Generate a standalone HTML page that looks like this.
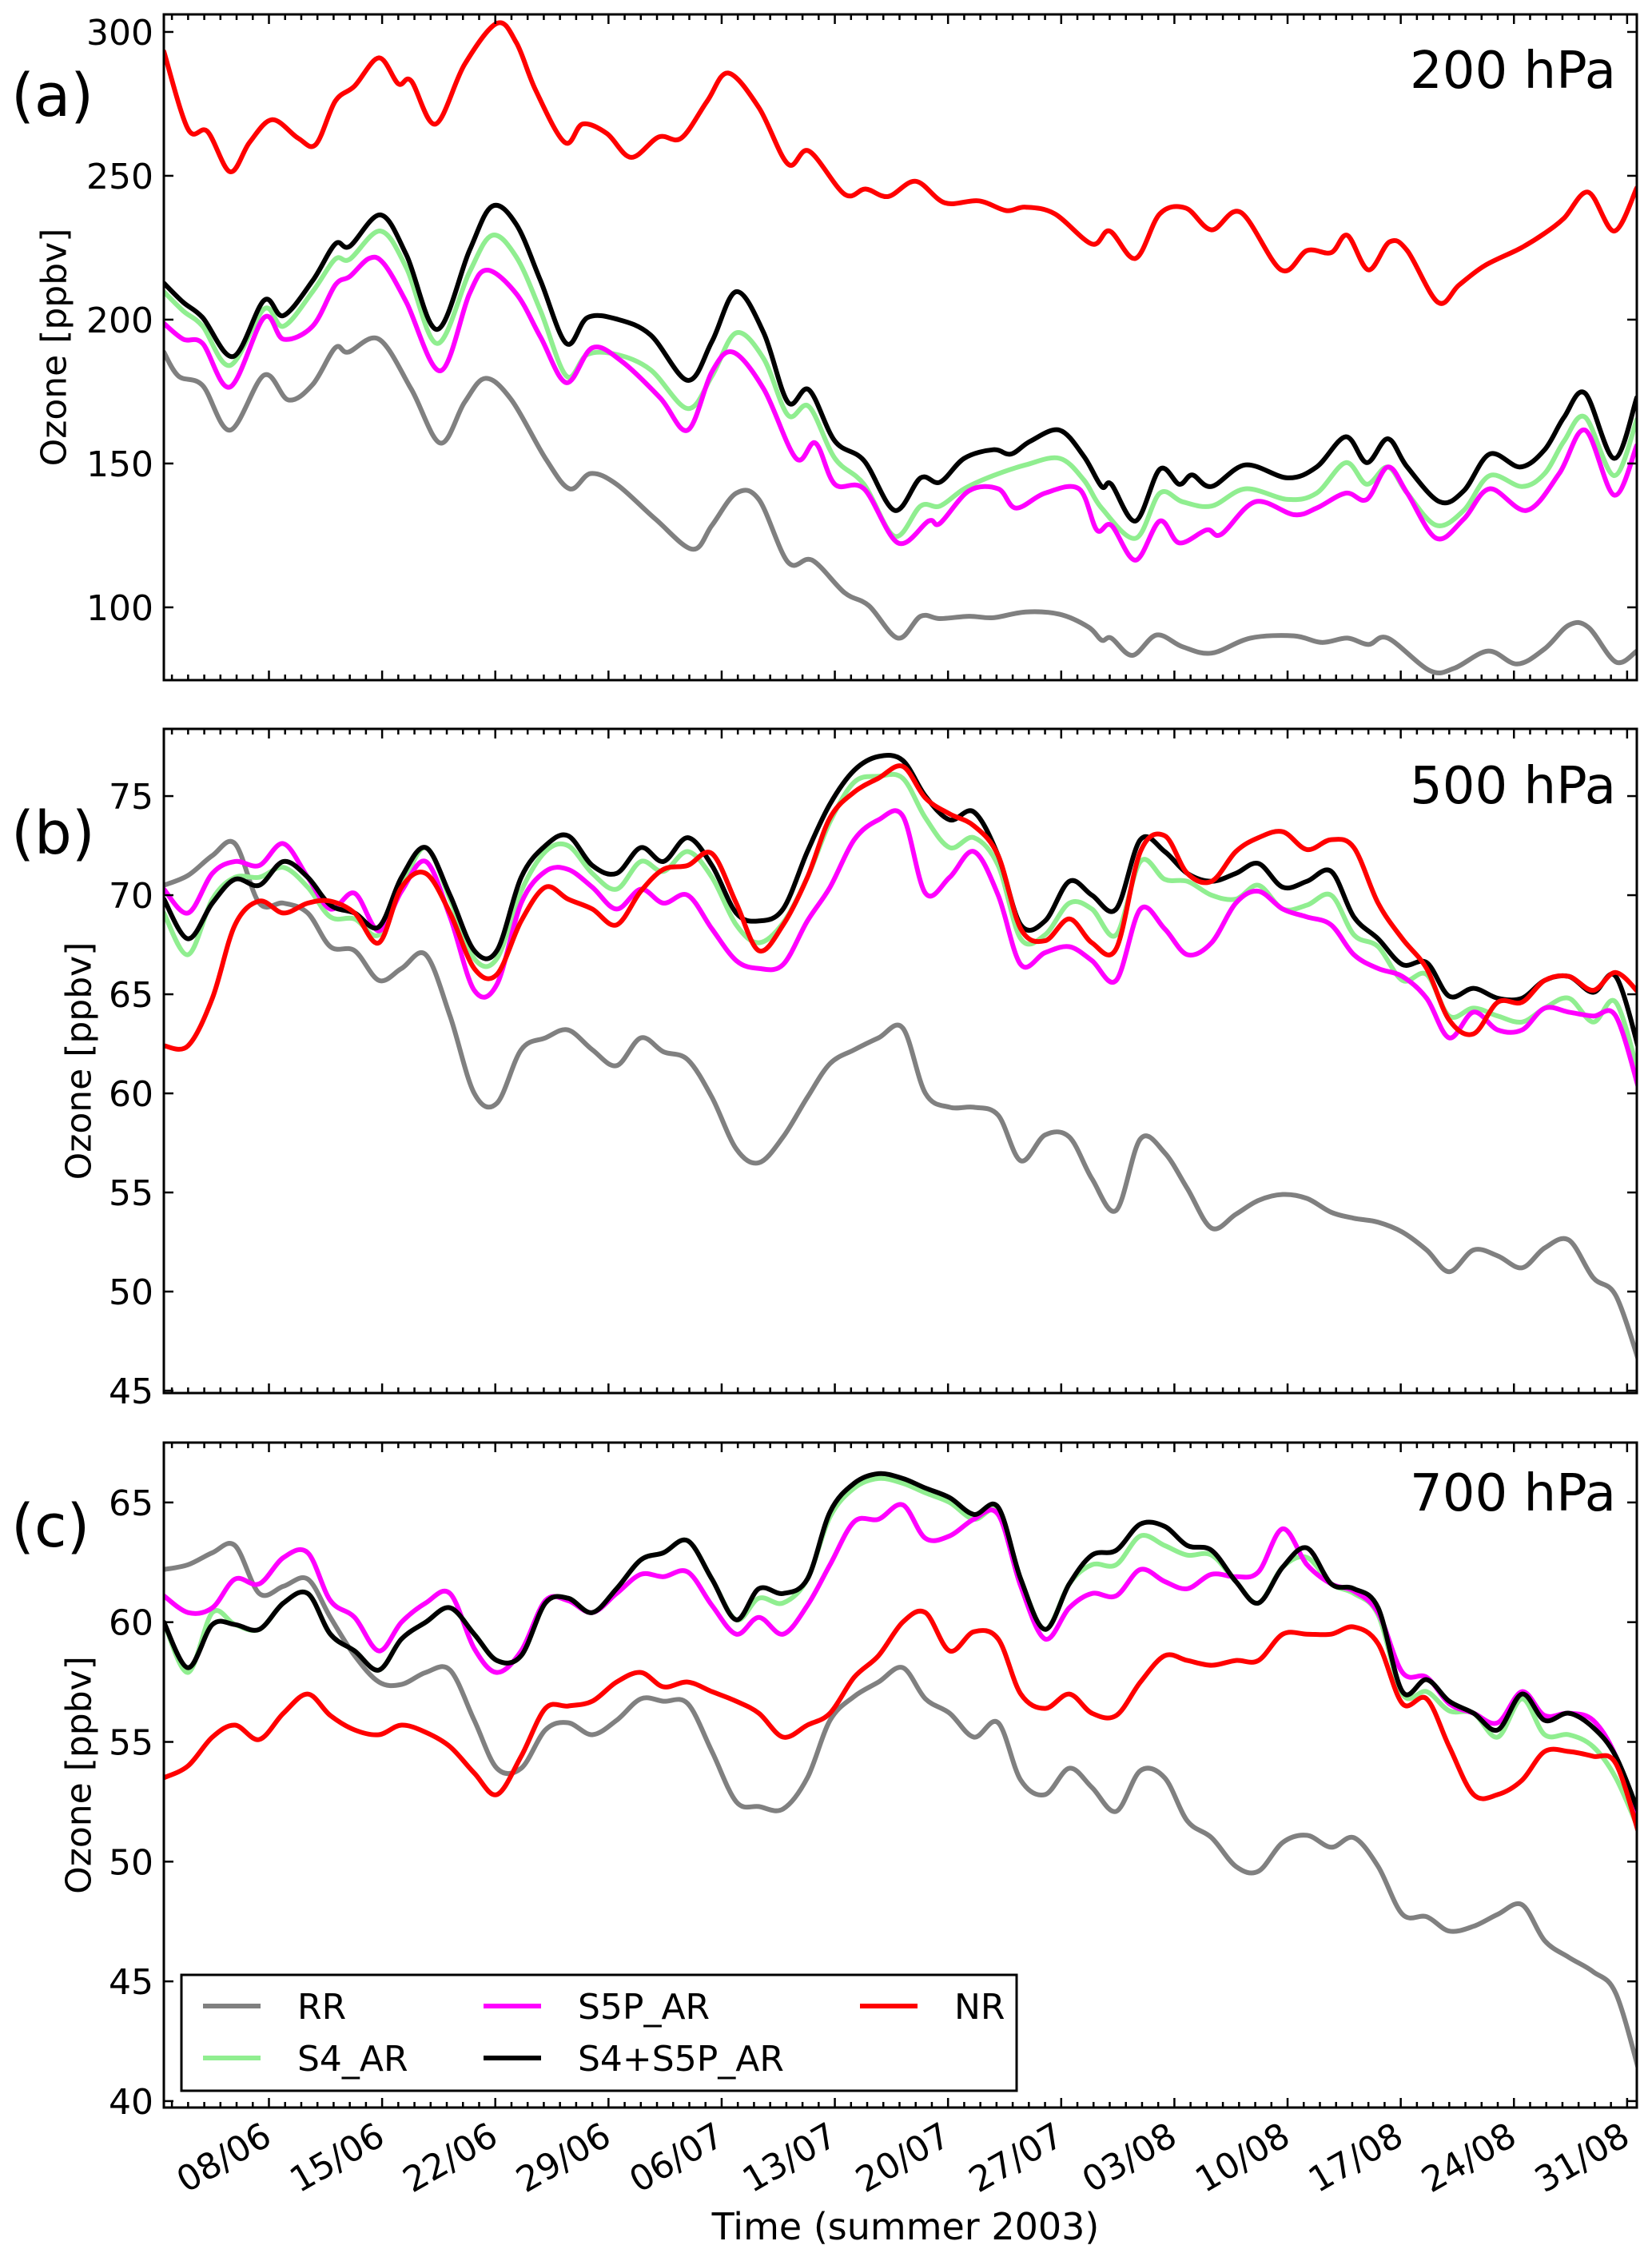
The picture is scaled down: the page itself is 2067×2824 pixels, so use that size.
<!DOCTYPE html>
<html><head><meta charset="utf-8">
<style>
html,body{margin:0;padding:0;background:#fff;}
svg{display:block;font-family:"DejaVu Sans","Liberation Sans",sans-serif;}
</style></head>
<body>
<svg id="fig" width="2067" height="2824" viewBox="0 0 2067 2824" xmlns="http://www.w3.org/2000/svg">
<rect x="0" y="0" width="2067" height="2824" fill="#fff"/>
</svg>
<script>
// ---- data (days since 08/06/2003) ----
const tickLabels = ["08/06","15/06","22/06","29/06","06/07","13/07","20/07","27/07","03/08","10/08","17/08","24/08","31/08"];
const seriesNames = ["RR","S4_AR","S5P_AR","S4+S5P_AR","NR"];
const seriesColors = ["#808080","#90ee90","#ff00ff","#000000","#ff0000"];

// Panel (a) 200 hPa
const aRRdays = [-6.5,-5.6,-4.1,-2.4,-0.3,1.2,2.7,4.1,4.9,6.8,8.8,10.6,12.1,13.4,15.0,17.1,18.6,19.9,21.5,23.9,26.2,27.4,28.9,30.3,32.1,33.6,35.6,37.1,38.9,40.3,41.5,43.3,44.8,46.8,48.9,50.7,51.5,52.1,53.4,54.9,56.5,58.3,60.7,63.4,65.1,66.7,68.0,69.2,71.8,73.3,75.4,77.2,78.9,80.4,81.6,83.3,84.6];
const aRR = [188.7,180.4,177.1,161.6,180.7,172.1,177.4,190.2,188.7,193.2,175.9,157.1,171.3,179.6,172.1,151.8,141.2,146.5,142.8,130.7,120.2,128.5,139.7,137.5,115.7,116.4,105.1,100.6,89.3,96.9,96.1,96.9,96.4,98.4,97.6,93.1,88.6,89.3,83.3,90.4,86.3,84.1,89.3,90.1,87.8,89.3,87.1,89.3,78,78.8,84.8,80.3,85.6,93.8,93.1,81,84.8];
const aS4days = [-6.5,-5.3,-4.1,-2.4,-0.3,0.9,2.7,4.1,5.0,6.9,8.5,10.4,12.4,13.8,15.3,16.8,18.4,19.7,21.5,23.6,25.9,27.4,28.9,30.6,32.1,33.4,35.0,36.8,38.7,40.3,41.5,43.0,44.8,46.8,48.9,50.4,51.5,53.6,55.1,56.5,58.3,60.4,63.0,64.8,66.6,67.9,69.2,70.4,72.2,73.9,75.5,77.5,78.9,80.1,81.4,83.2,84.6];
const aS4 = [209.7,203,197.7,184.1,203.7,197.7,209.7,221,221,230.8,218,191.7,216.5,229.3,221.8,203,180.4,187.9,187.9,182.6,169.1,180.4,195.4,186.4,166.8,169.8,151.8,142.8,124.7,135.2,135.2,141.2,145.8,149.5,151.8,144.3,134.5,124,139.7,136.7,135.2,141.2,137.5,139.7,150.3,142.8,148.8,139.7,128.5,133.7,145.8,142,146.5,157.8,166.1,145.8,165.3];
const aS5Pdays = [-6.5,-5.3,-4.1,-2.4,-0.3,0.9,2.7,4.1,5.0,6.2,7.1,8.5,10.6,12.4,13.5,15.3,16.8,18.4,20.0,21.8,24.2,25.9,27.4,28.7,30.6,32.6,33.8,35.0,36.8,38.9,40.8,41.5,43.3,45.1,46.2,48.0,50.1,51.2,52.1,53.6,55.1,56.3,58.0,58.9,61.0,63.4,64.8,66.6,67.9,69.2,70.4,72.2,73.9,75.5,77.8,79.8,81.4,83.2,84.6];
const aS5P = [198.7,193.2,191.7,176.6,200.7,193.2,197.7,212,215,221.3,219.5,206,182.2,209,217.2,209,193.9,178.1,190.2,185.6,172.8,161.6,181.9,188.7,175.9,151.8,157.1,142.8,141.2,122.4,130,129.2,140.5,141.2,134.5,139.7,141.2,126.9,128.5,116.4,130,122.4,126.9,125.4,136.7,132.2,134.5,139.7,137.5,148.8,139.7,124,130.7,141.2,133.7,146.5,161.6,139,156.3];
const aBothdays = [-6.5,-5.3,-4.1,-2.2,-0.3,0.9,2.7,4.1,5.0,6.9,8.5,10.4,12.4,13.8,15.3,16.8,18.4,19.7,21.5,23.6,25.9,27.4,28.9,30.6,32.1,33.4,35.0,36.8,38.7,40.3,41.5,43.0,44.8,45.9,47.1,48.9,50.4,51.5,52.1,53.6,55.1,56.3,57.1,58.3,60.4,63.0,64.8,66.6,67.9,69.2,70.4,72.4,73.9,75.5,77.4,78.9,80.1,81.4,83.2,84.6];
const aBoth = [212.7,206,200.7,187.2,206.7,201.4,213.5,226.3,225.5,236.4,222.5,196.6,224,239.4,233.1,213.5,191.7,200.7,200.2,194.7,178.9,192.4,209.7,195.4,171.3,175.6,157.8,151,133.7,145,143.5,151.8,154.8,153.3,157.8,161.6,152.5,142,142.8,130,148,142.8,146,142,149.5,145,148.8,159.3,150.3,158.6,148.8,136.7,140.5,153.3,148.8,154.8,166.1,174.4,151.8,172.9];
const aNRdays = [-6.5,-5.0,-3.8,-2.4,-1.2,0.2,1.8,2.9,4.1,5.3,6.8,8.0,8.8,10.3,12.1,14.1,15.3,16.5,18.3,19.4,20.9,22.4,24.1,25.5,27.1,28.4,30.3,32.1,33.4,35.6,36.9,38.3,40.0,41.8,43.9,45.6,46.8,48.6,50.9,52.0,53.6,55.1,56.7,58.3,60.1,62.6,64.2,65.7,66.7,68.0,69.3,70.4,72.3,73.6,75.2,77.4,78.9,80.1,81.6,83.2,84.6];
const aNR = [293.2,266.2,265.4,251.4,261.6,269.5,263.1,260.9,275.9,281.2,291,282,283,268,288.7,303,296.3,279.7,261.6,268,264.7,256.4,263.5,263.1,275.9,285.7,273.7,254.1,258.6,243.6,245.4,242.8,248.1,240.6,241.3,237.9,239.1,236.8,226.3,230.8,221.3,236.8,238.8,231.2,237.3,217.3,224,223.3,229.3,217.3,227,224,206,212,218.8,224.8,230,235.3,244.3,230.8,245.8];

// Shared day grid for panels (b) and (c)
const gridDays = [-6.5,-5.0,-3.5,-2.1,-0.6,0.9,2.4,3.8,5.3,6.8,8.2,9.7,11.2,12.7,14.1,15.6,17.1,18.5,20.0,21.5,23.0,24.4,25.9,27.4,28.9,30.3,31.8,33.3,34.7,36.2,37.7,39.2,40.6,42.1,43.6,45.1,46.5,48.0,49.5,50.9,52.4,53.9,55.4,56.8,58.3,59.8,61.2,62.7,64.2,65.7,67.1,68.6,70.1,71.6,73.0,74.5,76.0,77.5,78.9,80.4,81.9,83.3,84.8];

// Panel (b) 500 hPa
const bRR = [70.5,71.0,72.0,72.6,69.6,69.6,69.1,67.4,67.2,65.7,66.3,67.0,63.9,60.0,59.5,62.2,62.8,63.2,62.2,61.4,62.8,62.1,61.7,59.8,57.2,56.5,57.8,59.8,61.5,62.2,62.8,63.3,60.0,59.3,59.3,58.9,56.6,57.9,57.8,55.7,54.1,57.7,57.0,55.2,53.2,53.9,54.6,54.9,54.7,54.0,53.7,53.5,53.0,52.1,51.0,52.1,51.8,51.2,52.2,52.6,50.7,49.8,46.3];
const bS4 = [69.1,67.0,69.8,70.9,70.9,71.4,70.4,68.9,68.8,68.0,70.4,72.4,69.8,66.8,66.8,70.2,72.2,72.5,71.1,70.3,71.7,71.2,72.2,70.9,68.5,67.6,68.6,70.9,73.7,75.7,76.0,75.9,73.9,72.4,72.9,71.5,67.8,68.0,69.6,69.3,68.0,71.7,70.8,70.7,70.0,69.8,70.5,69.3,69.5,70.0,68.0,67.4,65.7,66.0,63.9,64.3,63.9,63.6,64.3,64.8,63.6,64.6,60.7];
const bS5P = [70.3,69.1,71.1,71.7,71.5,72.6,70.9,69.3,70.1,68.2,70.2,71.7,68.9,65.2,65.5,69.6,71.2,71.3,70.4,69.3,70.3,69.6,70.0,68.3,66.7,66.3,66.5,68.7,70.4,72.8,73.8,74.0,70.1,70.9,72.2,70.0,66.5,67.1,67.4,66.7,65.7,69.3,68.3,67.0,67.6,69.6,70.2,69.3,68.9,68.5,67.0,66.3,65.9,64.8,62.8,64.1,63.2,63.2,64.3,64.1,63.9,63.9,60.0];
const bBoth = [69.8,67.8,69.6,70.8,70.5,71.7,70.9,69.5,69.1,68.4,70.9,72.4,70.0,67.2,67.2,70.9,72.5,73.0,71.5,71.1,72.4,71.7,72.9,71.5,69.1,68.7,69.3,72.2,74.6,76.3,77.0,76.8,75.0,73.8,74.2,72.0,68.5,68.7,70.7,70.0,69.3,72.8,72.2,71.1,70.7,71.1,71.6,70.4,70.7,71.2,68.9,67.8,66.5,66.6,64.9,65.3,64.8,64.8,65.7,65.9,65.1,65.9,62.0];
const bNR = [62.4,62.4,64.8,68.5,69.7,69.1,69.6,69.7,69.1,67.6,70.4,71.1,69.1,66.3,66.0,68.7,70.4,69.8,69.3,68.5,70.2,71.3,71.5,72.1,69.6,67.2,68.5,70.9,73.9,75.2,75.9,76.5,74.9,74.1,73.5,72.0,68.3,67.7,68.8,67.6,67.3,72.2,73.0,71.1,70.7,72.2,72.9,73.2,72.3,72.8,72.4,69.6,67.8,66.3,63.7,63.0,64.6,64.6,65.7,65.9,65.2,66.1,65.0];

// Panel (c) 700 hPa
const cRR = [62.2,62.4,62.9,63.2,61.2,61.5,61.8,60.2,58.6,57.5,57.4,57.9,58.0,55.9,53.9,53.9,55.5,55.8,55.3,55.9,56.8,56.7,56.6,54.6,52.5,52.3,52.2,53.5,55.9,56.9,57.5,58.1,56.8,56.2,55.2,55.8,53.4,52.8,53.9,53.1,52.1,53.8,53.5,51.7,51.0,49.8,49.6,50.8,51.1,50.6,51.0,49.8,47.8,47.7,47.1,47.3,47.8,48.2,46.7,46.0,45.4,44.5,41.1];
const cS4 = [60.0,57.9,60.4,59.9,59.7,60.8,61.2,59.5,58.8,58.0,59.3,60.0,60.6,59.5,58.4,58.6,60.8,61.0,60.4,61.4,62.6,62.9,63.4,61.8,60.1,61.0,60.8,61.8,64.4,65.6,66.0,65.8,65.4,65.0,64.3,64.6,61.8,59.7,61.6,62.4,62.4,63.6,63.2,62.8,62.8,61.7,60.8,62.3,62.7,61.6,61.2,60.3,57.0,57.1,56.3,56.2,55.2,56.8,55.3,55.3,54.8,53.5,51.2];
const cS5P = [61.1,60.4,60.6,61.8,61.6,62.7,62.9,60.9,60.2,58.8,60.0,60.8,61.2,58.9,57.9,58.8,60.9,60.9,60.4,61.2,62.0,61.9,62.1,60.7,59.5,60.2,59.5,60.7,62.4,64.2,64.3,64.9,63.5,63.6,64.3,64.5,61.5,59.3,60.6,61.2,61.1,62.2,61.7,61.4,62.0,61.9,62.1,63.9,62.4,61.6,61.3,60.4,57.9,57.7,56.6,56.2,55.8,57.1,56.1,56.2,55.9,54.4,51.4];
const cBoth = [60.0,58.1,59.9,59.9,59.7,60.8,61.2,59.5,58.8,58.0,59.3,60.0,60.6,59.5,58.4,58.6,60.8,61.0,60.4,61.4,62.6,62.9,63.4,61.8,60.1,61.4,61.2,61.8,64.6,65.8,66.2,66.0,65.6,65.2,64.5,64.8,61.8,59.7,61.6,62.8,63.0,64.1,64.0,63.2,63.0,61.7,60.8,62.3,63.1,61.6,61.4,60.6,57.1,57.6,56.7,56.2,55.5,57.0,55.9,56.2,55.6,54.4,51.9];
const cNR = [53.5,54.0,55.2,55.7,55.1,56.2,57.0,56.1,55.5,55.3,55.7,55.4,54.8,53.7,52.8,54.4,56.4,56.5,56.7,57.5,57.9,57.3,57.5,57.1,56.7,56.2,55.2,55.7,56.2,57.7,58.6,60.0,60.4,58.8,59.6,59.3,57.0,56.4,57.0,56.2,56.1,57.5,58.6,58.4,58.2,58.4,58.4,59.5,59.5,59.5,59.8,59.1,56.6,56.8,54.8,52.8,52.8,53.4,54.6,54.6,54.4,54.1,51.0];

const aTicks = [100,150,200,250,300];
const bTicks = [45,50,55,60,65,70,75];
const cTicks = [40,45,50,55,60,65];

// ---- layout ----
const NS = "http://www.w3.org/2000/svg";
const svg = document.getElementById('fig');
const X0 = 205, X1 = 2048, D0 = -6.5, D1 = 84.6;
function xs(d){ return X0 + (d - D0) * (X1 - X0) / (D1 - D0); }
function mk(tag, attrs, parent){
  const e = document.createElementNS(NS, tag);
  for (const k in attrs) e.setAttribute(k, attrs[k]);
  (parent || svg).appendChild(e);
  return e;
}
function smoothPath(pts){
  let d = "M" + pts[0][0].toFixed(1) + "," + pts[0][1].toFixed(1);
  for (let i = 0; i < pts.length - 1; i++){
    const p0 = pts[Math.max(0,i-1)], p1 = pts[i], p2 = pts[i+1], p3 = pts[Math.min(pts.length-1,i+2)];
    const c1x = p1[0] + (p2[0]-p0[0])/6, c1y = p1[1] + (p2[1]-p0[1])/6;
    const c2x = p2[0] - (p3[0]-p1[0])/6, c2y = p2[1] - (p3[1]-p1[1])/6;
    d += " C" + c1x.toFixed(1)+","+c1y.toFixed(1)+" "+c2x.toFixed(1)+","+c2y.toFixed(1)+" "+p2[0].toFixed(1)+","+p2[1].toFixed(1);
  }
  return d;
}

const panels = [
  {key:"a", label:"(a)", level:"200 hPa", top:18, bot:851, vTop:306.1, vBot:74.7, ticks:aTicks, ylabX:68, labY:145, lvlY:110,
   series:[[aRRdays,aRR],[aS4days,aS4],[aS5Pdays,aS5P],[aBothdays,aBoth],[aNRdays,aNR]]},
  {key:"b", label:"(b)", level:"500 hPa", top:912, bot:1743, vTop:78.39, vBot:44.88, ticks:bTicks, ylabX:99, labY:1068, lvlY:1005,
   series:[[gridDays,bRR],[gridDays,bS4],[gridDays,bS5P],[gridDays,bBoth],[gridDays,bNR]]},
  {key:"c", label:"(c)", level:"700 hPa", top:1805, bot:2637, vTop:67.5, vBot:39.73, ticks:cTicks, ylabX:99, labY:1935, lvlY:1890,
   series:[[gridDays,cRR],[gridDays,cS4],[gridDays,cS5P],[gridDays,cBoth],[gridDays,cNR]]}
];

const defs = mk('defs', {});
panels.forEach((p, pi) => {
  const ys = v => p.top + (p.vTop - v) * (p.bot - p.top) / (p.vTop - p.vBot);
  const g = mk('g', {});
  
  
  const cp = mk('clipPath', {id:'clip'+p.key}, defs);
  mk('rect', {x:X0, y:p.top, width:X1-X0, height:p.bot-p.top}, cp);

  const sg = mk('g', {'clip-path':'url(#clip'+p.key+')'}, g);
  p.series.forEach((s, si) => {
    const days = s[0], vals = s[1];
    const n = Math.min(days.length, vals.length);
    const pts = [];
    for (let i = 0; i < n; i++) pts.push([xs(days[i]), ys(vals[i])]);
    const path = mk('path', {d:smoothPath(pts), fill:'none', stroke:seriesColors[si], 'stroke-width':6, 'stroke-linejoin':'round', 'stroke-linecap':'round'}, sg);
    
    
  });

  const tg = mk('g', {stroke:'#000', 'stroke-width':2.5}, g);
  for (let d = -6; d <= 84; d++){
    const x = xs(d);
    const major = (d % 7 === 0 && d >= 0);
    const L = major ? 12 : 7;
    mk('line', {x1:x, y1:p.bot, x2:x, y2:p.bot-L}, tg);
    mk('line', {x1:x, y1:p.top, x2:x, y2:p.top+L}, tg);
  }
  p.ticks.forEach(v => {
    const y = ys(v);
    mk('line', {x1:X0, y1:y, x2:X0+12, y2:y}, tg);
    mk('line', {x1:X1, y1:y, x2:X1-12, y2:y}, tg);
    const t = mk('text', {x:192, y:y+16, 'text-anchor':'end', 'font-size':44, fill:'#000'}, g);
    t.textContent = v;
    
    
  });

  const fr = mk('rect', {x:X0, y:p.top, width:X1-X0, height:p.bot-p.top, fill:'none', stroke:'#000', 'stroke-width':3}, g);
  
  

  const cy = (p.top + p.bot) / 2;
  const yt = mk('text', {x:p.ylabX, y:cy, 'text-anchor':'middle', 'dominant-baseline':'central', 'font-size':44, transform:'rotate(-90 '+p.ylabX+' '+cy+')'}, g);
  yt.textContent = 'Ozone [ppbv]';
  
  

  const pl = mk('text', {x:14, y:p.labY, 'font-size':74}, g);
  pl.textContent = p.label;
  
  

  const lv = mk('text', {x:2022, y:p.lvlY, 'text-anchor':'end', 'font-size':64}, g);
  lv.textContent = p.level;
  
  
});

tickLabels.forEach((lab, i) => {
  const x = xs(i * 7) + 6, y = 2681;
  const t = mk('text', {x:x, y:y, 'text-anchor':'end', 'font-size':44, transform:'rotate(-30 '+x+' '+y+')'});
  t.textContent = lab;
  
  
});
const xt = mk('text', {x:1133, y:2802, 'text-anchor':'middle', 'font-size':46});
xt.textContent = 'Time (summer 2003)';



const lg = mk('g', {});


mk('rect', {x:227, y:2471, width:1045, height:145, fill:'#fff', stroke:'#000', 'stroke-width':3}, lg);
const legPos = [[254,2510],[254,2575],[605,2510],[605,2575],[1076,2510]];
seriesNames.forEach((nm, i) => {
  const e = mk('g', {}, lg);
  
  
  const [lx, ly] = legPos[i];
  mk('line', {x1:lx, y1:ly, x2:lx+72, y2:ly, stroke:seriesColors[i], 'stroke-width':6}, e);
  const t = mk('text', {x:lx+118, y:ly+16, 'font-size':44}, e);
  t.textContent = nm;
});
</script>
</body></html>
